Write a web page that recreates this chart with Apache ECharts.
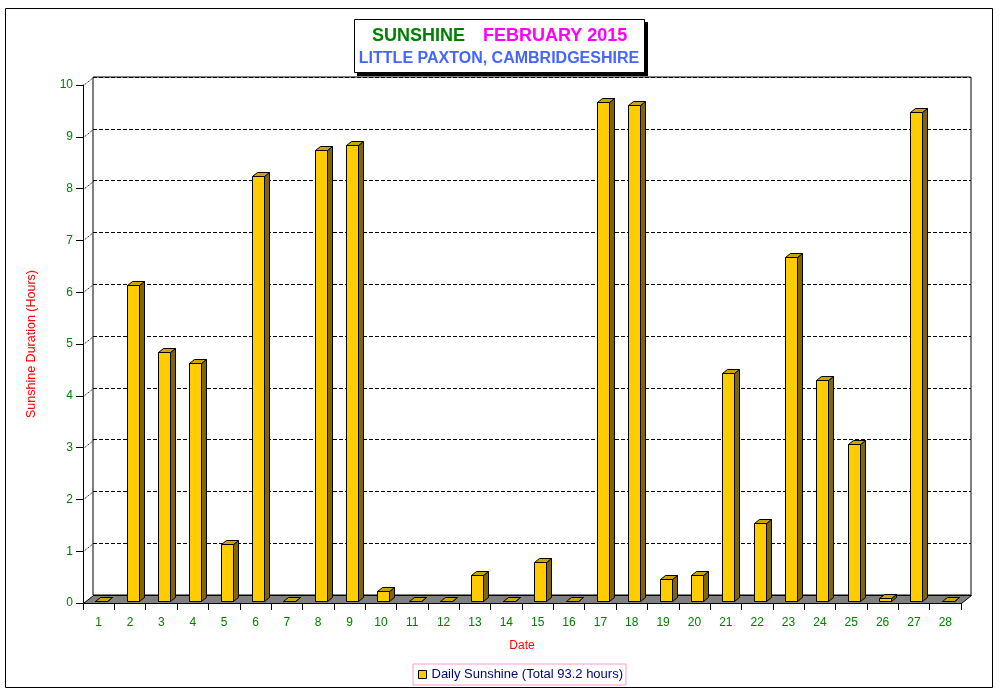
<!DOCTYPE html>
<html>
<head>
<meta charset="utf-8">
<script src="https://cdn.jsdelivr.net/npm/echarts@6/dist/echarts.min.js"></script>
<style>
html,body{margin:0;padding:0;background:#fff;}
#chart{width:1001px;height:694px;}
</style>
</head>
<body>
<div id="chart"></div>
<script>
// ---- data ----
const dates = ['1','2','3','4','5','6','7','8','9','10','11','12','13','14','15','16','17','18','19','20','21','22','23','24','25','26','27','28'];
const sunshine = [0,6.1,4.8,4.6,1.1,8.2,0,8.7,8.8,0.2,0,0,0.5,0,0.75,0,9.64,9.58,0.42,0.5,4.4,1.5,6.65,4.27,3.03,0.05,9.44,0];
const yTicks = [0,1,2,3,4,5,6,7,8,9,10];
const seriesName = 'Daily Sunshine (Total 93.2 hours)';
const titleWord1 = 'SUNSHINE';
const titleWord2 = 'FEBRUARY 2015';
const subtitleText = 'LITTLE PAXTON, CAMBRIDGESHIRE';
const xAxisName = 'Date';
const yAxisName = 'Sunshine Duration (Hours)';

// ---- style ----
const FONT = 'Arial, "Liberation Sans", sans-serif';
const DX = 10, DY = 8;            // 3D depth offset
const FRONT = '#FFCC00', TOP = '#CCA300', SIDE = '#806600';
const LABEL = '#008000';

const chart = echarts.init(document.getElementById('chart'), null, {renderer: 'canvas'});

function renderBar(params, api) {
  const i = api.value(0), v = api.value(1);
  const base = api.coord([i, 0]);
  const top = api.coord([i, v]);
  const bw = api.size([1, 0])[0];
  const w = Math.round(bw * 0.385);
  const ox = DX * 0.25, oy = DY * 0.25;
  const hx = DX * 0.5, hy = DY * 0.5;
  const x0 = Math.round(base[0] + ox - w / 2) + 0.5;
  const x1 = x0 + w;
  const yb = Math.round(base[1] - oy) + 0.5;
  const yt = Math.round(top[1] - oy) + 0.5;
  const st = {stroke: '#000', lineWidth: 1};
  return {
    type: 'group',
    children: [
      {type: 'polygon', shape: {points: [[x1, yt], [x1 + hx, yt - hy], [x1 + hx, yb - hy], [x1, yb]]},
        style: Object.assign({fill: SIDE}, st)},
      {type: 'polygon', shape: {points: [[x0, yt], [x0 + hx, yt - hy], [x1 + hx, yt - hy], [x1, yt]]},
        style: Object.assign({fill: TOP}, st)},
      {type: 'polygon', shape: {points: [[x0, yt], [x1, yt], [x1, yb], [x0, yb]]},
        style: Object.assign({fill: FRONT}, st)}
    ]
  };
}

function renderDecor(params, api) {
  const cs = params.coordSys;
  const t = api.value(1);
  const p = api.coord([0, t]);
  const y = Math.round(p[1]) + 0.5;
  const xl = Math.round(cs.x) + 0.5;
  const xr = Math.round(cs.x + cs.width) + 0.5;
  if (t === 0) {
    return {
      type: 'polygon',
      shape: {points: [[xl, y], [xr, y], [xr + DX, y - DY], [xl + DX, y - DY]]},
      style: {fill: '#808080', stroke: '#000', lineWidth: 1}
    };
  }
  return {
    type: 'line',
    shape: {x1: xl, y1: y, x2: xl + DX, y2: y - DY},
    style: {stroke: '#000', lineWidth: 1, lineDash: [1, 1]}
  };
}

const option = {
  animation: false,
  backgroundColor: '#fff',
  textStyle: {fontFamily: FONT},
  grid: [
    {left: 83, right: 40, top: 85, bottom: 91, show: false},
    {left: 93, right: 30, top: 77, bottom: 99, show: true, borderColor: '#000', borderWidth: 1, backgroundColor: '#fff'}
  ],
  xAxis: [
    {
      type: 'category', gridIndex: 0, data: dates, boundaryGap: true,
      axisLine: {show: true, lineStyle: {color: '#000', width: 1}},
      axisTick: {show: true, length: 7, alignWithLabel: false, interval: 0, lineStyle: {color: '#000'}},
      axisLabel: {color: LABEL, fontSize: 12, fontFamily: FONT, margin: 14, interval: 0},
      splitLine: {show: false},
      name: xAxisName, nameLocation: 'middle', nameGap: 37,
      nameTextStyle: {color: '#FF0000', fontSize: 12, fontFamily: FONT}
    },
    {type: 'category', gridIndex: 1, data: dates, show: false}
  ],
  yAxis: [
    {
      type: 'value', gridIndex: 0, min: 0, max: 10, interval: 1,
      axisLine: {show: true, lineStyle: {color: '#000', width: 1}},
      axisTick: {show: true, length: 7, lineStyle: {color: '#000'}},
      axisLabel: {color: LABEL, fontSize: 12, fontFamily: FONT, margin: 10},
      splitLine: {show: false},
      name: yAxisName, nameLocation: 'middle', nameGap: 45, nameRotate: 90,
      nameTextStyle: {color: '#FF0000', fontSize: 12.5, fontFamily: FONT}
    },
    {
      type: 'value', gridIndex: 1, min: 0, max: 10, interval: 1,
      axisLine: {show: false}, axisTick: {show: false}, axisLabel: {show: false},
      splitLine: {show: true, lineStyle: {color: '#000', width: 1, type: [4, 2]}}
    }
  ],
  legend: {
    show: true,
    left: 413, top: 664,
    padding: [4, 3, 4, 5],
    borderColor: '#FF99CC', borderWidth: 1, backgroundColor: '#fff',
    itemWidth: 8, itemHeight: 8,
    icon: 'rect',
    itemStyle: {color: FRONT, borderColor: '#000', borderWidth: 1},
    textStyle: {color: '#000080', fontSize: 13, fontFamily: FONT, padding: 0},
    data: [seriesName]
  },
  series: [
    {
      name: 'decor', type: 'custom', xAxisIndex: 0, yAxisIndex: 0, z: 2,
      renderItem: renderDecor, clip: false, silent: true,
      data: yTicks.map(t => [0, t])
    },
    {
      name: seriesName, type: 'custom', xAxisIndex: 0, yAxisIndex: 0, z: 3,
      renderItem: renderBar, clip: false,
      itemStyle: {color: FRONT},
      encode: {x: 0, y: 1},
      data: sunshine.map((v, i) => [i, v])
    }
  ],
  graphic: [
    {type: 'rect', silent: true, z: 0, shape: {x: 5.5, y: 8.5, width: 987, height: 679},
      style: {fill: 'none', stroke: '#000', lineWidth: 1}},
    {type: 'rect', silent: true, z: 10, shape: {x: 357, y: 22, width: 291, height: 54},
      style: {fill: '#000'}},
    {type: 'rect', silent: true, z: 11, shape: {x: 354.5, y: 19.5, width: 290, height: 53},
      style: {fill: '#fff', stroke: '#000', lineWidth: 1}},
    {type: 'text', silent: true, z: 12, x: 372, y: 36.5,
      style: {text: titleWord1, fill: '#008000', font: 'bold 18px ' + FONT, textAlign: 'left', textVerticalAlign: 'middle'}},
    {type: 'text', silent: true, z: 12, x: 483, y: 36.5,
      style: {text: titleWord2, fill: '#FF00FF', font: 'bold 18px ' + FONT, textAlign: 'left', textVerticalAlign: 'middle'}},
    {type: 'text', silent: true, z: 12, x: 499, y: 58.5,
      style: {text: subtitleText, fill: '#4466FF', font: 'bold 16px ' + FONT, textAlign: 'center', textVerticalAlign: 'middle'}}
  ]
};

chart.setOption(option);
</script>
</body>
</html>
